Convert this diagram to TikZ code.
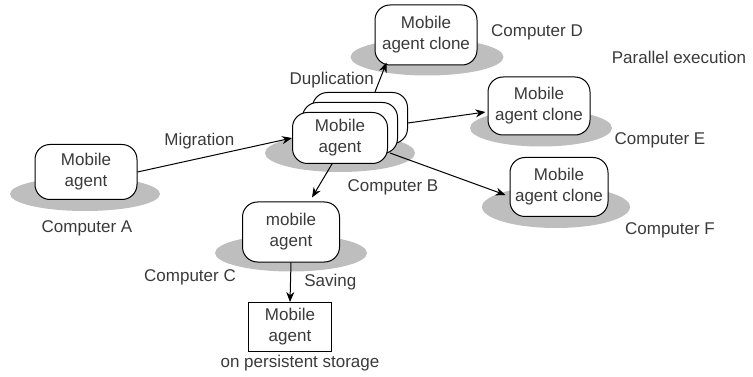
\documentclass[tikz,border=0pt]{standalone}
\usepackage{fontspec}
\setmainfont{Liberation Sans}
\usetikzlibrary{positioning,calc,arrows.meta,shapes.geometric}
\definecolor{maText}{HTML}{3A3A3A}
\definecolor{maHost}{HTML}{BEBEBE}
\tikzset{
  agent box/.style={
    rectangle, rounded corners=15pt,
    fill=white, draw=black, line width=1pt,
    font=\fontsize{17}{21}\selectfont, text=maText, align=center,
    minimum width=100pt, minimum height=57pt, inner sep=1pt,
  },
  store box/.style={
    rectangle, fill=white, draw=black, line width=1pt,
    font=\fontsize{17}{21}\selectfont, text=maText, align=center,
    minimum width=83pt, minimum height=49pt, inner sep=1pt,
  },
  host/.style={
    ellipse, fill=maHost, draw=none, inner sep=0pt,
  },
  host label/.style={
    font=\fontsize{17}{21}\selectfont, text=maText,
  },
  move arrow/.style={
    -{Stealth[length=10pt, width=8pt]},
    line width=1pt, color=black,
  },
}

\begin{document}
\begin{tikzpicture}[x=1pt, y=-1pt]
\useasboundingbox (0,0) rectangle (753,377);

% --- COMPUTERS ---
\node[host, minimum width=150pt, minimum height=34pt] (hA) at (85,194) {};
\node[host, minimum width=150pt, minimum height=38pt] (hB) at (340,153) {};
\node[host, minimum width=153pt, minimum height=37pt] (hD) at (427,57) {};
\node[host, minimum width=142pt, minimum height=37pt] (hE) at (541,128) {};
\node[host, minimum width=148pt, minimum height=42pt] (hF) at (556,207) {};
\node[host, minimum width=152pt, minimum height=37pt] (hC) at (291,253) {};

% --- AGENTS ---
\node[agent box, minimum width=102pt, minimum height=55pt] (mA) at (86,172) {Mobile\\agent};
\node[agent box, minimum width=95pt, minimum height=51pt] (mB3) at (360,118) {};
\node[agent box, minimum width=95pt, minimum height=51pt] (mB2) at (350,128) {};
\node[agent box, minimum width=95pt, minimum height=51pt] (mB) at (340,138) {Mobile\\agent};
\node[agent box, minimum width=102pt, minimum height=60pt] (mD) at (426,35) {Mobile\\agent clone};
\node[agent box, minimum width=102pt, minimum height=58pt] (mE) at (539,106) {Mobile\\agent clone};
\node[agent box, minimum width=98pt, minimum height=59pt] (mF) at (559,187) {Mobile\\agent clone};
\node[agent box, minimum width=97pt, minimum height=60pt] (mC) at (291,232) {mobile\\agent};
\node[store box] (mS) at (290,327) {Mobile\\agent};

% --- LABELS ---
\node[host label] (lA) at (87,228) {Computer A};
\node[host label] (lB) at (393,187) {Computer B};
\node[host label] (lC) at (190,277) {Computer C};
\node[host label] (lD) at (537,32) {Computer D};
\node[host label] (lE) at (660,140) {Computer E};
\node[host label] (lF) at (670,230) {Computer F};
\node[host label] (lP) at (679,57) {Parallel execution};
\node[host label] (lS) at (300,363) {on persistent storage};

% --- ARROWS WITH EDGE LABELS ---
\draw[move arrow] (mA.east) -- (mB.west)
  node[pos=0.4, above=6pt, host label] {Migration};
\draw[move arrow] ($(mB3.north)+(15,0)$) coordinate (dupS) -- ($(mD.south west)+(12,-3)$)
  node[pos=0.4, left=2pt, host label] {Duplication};
\draw[move arrow] ($(mB3.east)+(0,5)$) coordinate (parE) -- ($(mE.west)+(-2,6)$);
\draw[move arrow] ($(mB2.south east)+(-8,-1)$) coordinate (parF) -- ($(mF.west)+(-4,8)$);
\draw[move arrow] ($(mB.south)+(-8,0)$) coordinate (migC) -- ($(mC.north)+(21,-4)$);
\draw[move arrow] (mC.south) -- (mS.north)
  node[midway, right=10pt, host label] {Saving};

\end{tikzpicture}
\end{document}
